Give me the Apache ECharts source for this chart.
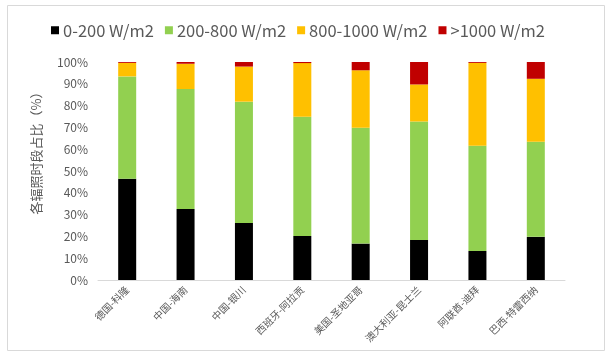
<!DOCTYPE html>
<html><head><meta charset="utf-8">
<script src="https://cdn.jsdelivr.net/npm/echarts@6/dist/echarts.min.js"></script>
<style>html,body{margin:0;padding:0;background:#fff}#c{width:611px;height:356px}</style>
</head><body><div id="c"></div>
<script>
const categories = ['德国-科隆','中国-海南','中国-银川','西班牙-阿拉贡','美国-圣地亚哥','澳大利亚-昆士兰','阿联酋-迪拜','巴西-特雷西纳'];
const seriesNames = ['0-200 W/m2','200-800 W/m2','800-1000 W/m2','>1000 W/m2'];
const s0_200 = [46.4, 32.6, 26.2, 20.2, 16.7, 18.4, 13.3, 19.8];
const s200_800 = [47.0, 55.0, 55.6, 54.7, 53.1, 54.3, 48.3, 43.6];
const s800_1000 = [6.2, 11.6, 16.1, 24.6, 26.4, 17.0, 38.0, 28.9];
const s1000 = [0.4, 0.8, 2.1, 0.5, 3.8, 10.3, 0.4, 7.7];
const yTicks = ['0%','10%','20%','30%','40%','50%','60%','70%','80%','90%','100%'];
const yName = '各辐照时段占比（%）';
const colors = ['#000000','#92D050','#FFC000','#C00000'];
const dataSets = [s0_200, s200_800, s800_1000, s1000];

const chart = echarts.init(document.getElementById('c'), null, {renderer:'canvas'});
const font = "'Noto Sans CJK SC', 'Noto Sans', sans-serif";
chart.setOption({
  animation:false,
  textStyle:{fontFamily:font},
  graphic:[
    {type:'rect', shape:{x:7.5,y:5.5,width:597,height:345}, style:{fill:'none', stroke:'#d9d9d9', lineWidth:1}, silent:true},
    {type:'text', x:36, y:150, rotation:Math.PI/2, style:{text:yName, fill:'#595959', font:"13px 'Noto Sans CJK SC'", align:'center', verticalAlign:'middle'}}
  ],
  legend:{
    top:17, left:46, itemWidth:8, itemHeight:8, itemGap:11, icon:'rect',
    textStyle:{fontSize:16.5, color:'#595959', fontFamily:font, padding:[0,0,0,-1]},
    data:seriesNames
  },
  grid:{left:98, right:46, top:62, bottom:76},
  xAxis:{
    type:'category', data:categories,
    axisLine:{lineStyle:{color:'#d9d9d9'}},
    axisTick:{show:false},
    axisLabel:{rotate:45, fontSize:10, color:'#595959', interval:0, margin:8}
  },
  yAxis:{
    type:'value', min:0, max:100, interval:10,
    axisLine:{show:false}, axisTick:{show:false}, splitLine:{show:false},
    axisLabel:{fontSize:12, color:'#595959', margin:10, formatter:(v)=>yTicks[Math.round(v/10)]}
  },
  series: seriesNames.map((n,i)=>({
    name:n, type:'bar', stack:'total', barWidth:18, data:dataSets[i],
    itemStyle:{color:colors[i]}
  }))
});
</script></body></html>
